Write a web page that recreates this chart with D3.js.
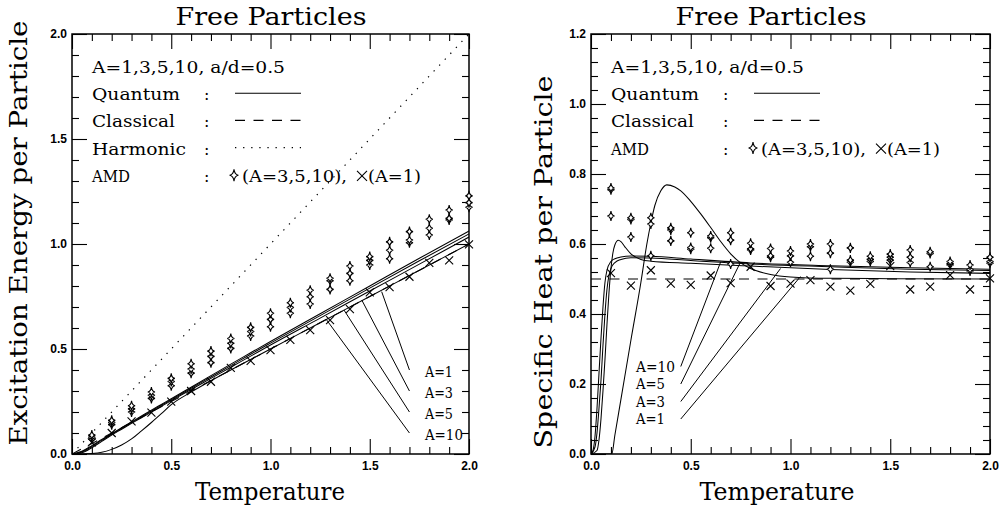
<!DOCTYPE html>
<html><head><meta charset="utf-8">
<script src="https://cdn.jsdelivr.net/npm/d3@7"></script>
<style>body{margin:0;background:#fff}svg{display:block}</style>
</head><body>
<svg id="c" width="1002" height="511"></svg>
<script>
// ---------------- DATA ----------------
const amdTemps = [0.1,0.2,0.3,0.4,0.5,0.6,0.7,0.8,0.9,1.0,1.1,1.2,1.3,1.4,1.5,1.6,1.7,1.8,1.9,2.0];
// Left panel: excitation energy per particle, AMD
const energyAmdA10 = [0.09,0.16,0.23,0.295,0.36,0.43,0.49,0.55,0.603,0.67,0.72,0.78,0.837,0.895,0.94,1.01,1.059,1.118,1.162,1.229];
const energyAmdA5  = [0.08,0.15,0.215,0.28,0.345,0.405,0.465,0.527,0.583,0.641,0.698,0.749,0.825,0.86,0.922,0.97,1.019,1.075,1.122,1.197];
const energyAmdA3  = [0.07,0.14,0.2,0.265,0.325,0.385,0.435,0.503,0.562,0.606,0.67,0.714,0.784,0.825,0.9,0.93,1.006,1.043,1.114,1.175];
const energyAmdA1  = [0.055,0.10,0.155,0.197,0.249,0.30,0.344,0.41,0.443,0.495,0.543,0.59,0.638,0.69,0.77,0.795,0.844,0.91,0.922,0.998];
// Left panel: quantum curves
const energyTemps = [0,0.05,0.1,0.15,0.2,0.25,0.3,0.35,0.4,0.45,0.5,0.6,0.7,0.8,0.9,1.0,1.25,1.5,1.75,2.0];
const energyQuantA1  = [0,0,0.002,0.008,0.022,0.043,0.072,0.11,0.15,0.192,0.235,0.295,0.349,0.4,0.45,0.5,0.625,0.75,0.875,1.0];
const energyQuantA3  = [0,0.006,0.03,0.06,0.09,0.118,0.146,0.173,0.2,0.227,0.254,0.307,0.36,0.413,0.466,0.519,0.647,0.776,0.904,1.033];
const energyQuantA5  = [0,0.01,0.036,0.065,0.094,0.122,0.15,0.177,0.205,0.232,0.259,0.313,0.367,0.421,0.475,0.528,0.659,0.79,0.92,1.048];
const energyQuantA10 = [0,0.013,0.04,0.069,0.097,0.125,0.153,0.181,0.209,0.236,0.263,0.318,0.373,0.428,0.482,0.536,0.668,0.8,0.932,1.062];
const harmonicTemps = [0,2];
const harmonicEnergy = [0,2];
const classicalTemps = [0,2];
const classicalEnergy = [0,1];
// Right panel: specific heat per particle, AMD
const heatAmdA10 = [0.76,0.675,0.675,0.646,0.632,0.623,0.632,0.602,0.587,0.58,0.6,0.6,0.589,0.565,0.571,0.583,0.578,0.55,0.54,0.562];
const heatAmdA5  = [0.755,0.67,0.657,0.64,0.59,0.618,0.611,0.586,0.566,0.566,0.592,0.574,0.554,0.556,0.562,0.562,0.573,0.544,0.527,0.55];
const heatAmdA3  = [0.68,0.62,0.566,0.609,0.585,0.588,0.543,0.583,0.562,0.548,0.565,0.528,0.548,0.55,0.554,0.547,0.535,0.54,0.523,0.545];
const heatAmdA1  = [0.517,0.481,0.525,0.487,0.483,0.51,0.488,0.535,0.48,0.487,0.497,0.478,0.467,0.486,0.537,0.47,0.478,0.511,0.47,0.502];
// Right panel: quantum curves
const heatA10Temps = [0,0.01,0.02,0.03,0.04,0.05,0.06,0.07,0.08,0.1,0.12,0.15,0.2,0.3,0.5,0.8,1.2,1.6,2.0];
const heatQuantA10 = [0,0.01,0.05,0.13,0.23,0.33,0.42,0.49,0.525,0.55,0.558,0.563,0.566,0.565,0.557,0.546,0.538,0.532,0.528];
const heatA5Temps  = [0,0.02,0.03,0.04,0.05,0.06,0.07,0.08,0.09,0.1,0.12,0.15,0.2,0.3,0.5,0.8,1.2,1.6,2.0];
const heatQuantA5  = [0,0.02,0.06,0.13,0.21,0.31,0.40,0.47,0.51,0.53,0.547,0.556,0.561,0.56,0.553,0.543,0.535,0.528,0.524];
const heatA3Temps  = [0,0.03,0.04,0.05,0.06,0.07,0.08,0.09,0.1,0.11,0.12,0.137,0.15,0.17,0.2,0.25,0.3,0.5,0.8,1.2,1.6,2.0];
const heatQuantA3  = [0,0.01,0.04,0.1,0.18,0.27,0.37,0.46,0.53,0.575,0.598,0.611,0.607,0.592,0.572,0.556,0.551,0.545,0.537,0.527,0.52,0.516];
const heatA1Temps  = [0,0.104,0.12,0.15,0.2,0.25,0.28,0.3,0.32,0.35,0.38,0.42,0.45,0.5,0.55,0.6,0.65,0.7,0.75,0.8,0.9,1.0,1.2,1.5,2.0];
const heatQuantA1  = [0,0,0.055,0.156,0.325,0.49,0.6,0.66,0.71,0.752,0.769,0.763,0.752,0.722,0.686,0.647,0.607,0.572,0.546,0.53,0.513,0.506,0.502,0.501,0.5];
const heatClassTemps = [0,2];
const heatClassical = [0.5,0.5];
// Annotations
const leftAnnLabels = ["A=1","A=3","A=5","A=10"];
const leftAnnFromT = [1.56,1.46,1.37,1.28];
const leftAnnFromE = [0.773,0.733,0.686,0.642];
const leftAnnToT = 1.70;
const leftAnnToE = [0.40,0.30,0.20,0.10];
const leftAnnTextT = 1.778;
const rightAnnLabels = ["A=10","A=5","A=3","A=1"];
const rightAnnFromT = [0.65,0.75,0.95,1.05];
const rightAnnFromC = [0.549,0.549,0.53,0.507];
const rightAnnToT = 0.45;
const rightAnnToC = [0.25,0.20,0.15,0.10];
const rightAnnTextT = 0.2256;
// Ticks / text
const xMajor = [0,0.5,1.0,1.5,2.0];
const xMinor = [0.1,0.2,0.3,0.4,0.6,0.7,0.8,0.9,1.1,1.2,1.3,1.4,1.6,1.7,1.8,1.9];
const yLeftMajor = [0,0.5,1.0,1.5,2.0];
const yLeftMinor = [0.1,0.2,0.3,0.4,0.6,0.7,0.8,0.9,1.1,1.2,1.3,1.4,1.6,1.7,1.8,1.9];
const yRightMajor = [0,0.2,0.4,0.6,0.8,1.0,1.2];
const yRightMinor = [0.04,0.08,0.12,0.16,0.24,0.28,0.32,0.36,0.44,0.48,0.52,0.56,0.64,0.68,0.72,0.76,0.84,0.88,0.92,0.96,1.04,1.08,1.12,1.16];
const panelTitle = "Free Particles";
const xTitle = "Temperature";
const yTitleLeft = "Excitation Energy per Particle";
const yTitleRight = "Specific Heat per Particle";
const legendHeader = "A=1,3,5,10, a/d=0.5";
const legendLeft = ["Quantum","Classical","Harmonic","AMD"];
const legendRight = ["Quantum","Classical","AMD"];
const amdText1 = "(A=3,5,10),";
const amdText2 = "(A=1)";

// ---------------- DRAW ----------------
const svg = d3.select("#c");
const SERIF = "'DejaVu Serif', 'Liberation Serif', serif";
const SANS = "'Liberation Sans', Arial, sans-serif";

const xL = d3.scaleLinear([0,2],[72,469]);
const yL = d3.scaleLinear([0,2],[454,34]);
const xR = d3.scaleLinear([0,2],[591,990]);
const yR = d3.scaleLinear([0,1.2],[454,34]);

const defs = svg.append("defs");
function clip(id,x,y){
  defs.append("clipPath").attr("id",id).append("rect")
    .attr("x",x.range()[0]).attr("y",y.range()[1])
    .attr("width",x.range()[1]-x.range()[0]).attr("height",y.range()[0]-y.range()[1]);
}
clip("clipL",xL,yL); clip("clipR",xR,yR);

function axes(x,y,yMaj,yMin){
  const [x0,x1]=x.range(), [yb,yt]=y.range();
  const add=(axis,tx,ty,labels)=>{
    const g=svg.append("g").attr("transform",`translate(${tx},${ty})`).call(axis);
    g.select(".domain").remove();
    g.selectAll("line").attr("stroke","#000").attr("stroke-width",1.1);
    if(labels) g.selectAll("text").attr("font-family",SANS).attr("font-weight","bold").attr("font-size",12).attr("fill","#000");
    else g.selectAll("text").remove();
  };
  const f=d3.format(".1f");
  add(d3.axisBottom(x).tickValues(xMajor).tickSize(-15).tickSizeOuter(0).tickPadding(7).tickFormat(f),0,yb,true);
  add(d3.axisBottom(x).tickValues(xMinor).tickSize(-7).tickSizeOuter(0),0,yb,false);
  add(d3.axisTop(x).tickValues(xMajor).tickSize(-15).tickSizeOuter(0),0,yt,false);
  add(d3.axisTop(x).tickValues(xMinor).tickSize(-7).tickSizeOuter(0),0,yt,false);
  add(d3.axisLeft(y).tickValues(yMaj).tickSize(-15).tickSizeOuter(0).tickPadding(5).tickFormat(f),x0,0,true);
  add(d3.axisLeft(y).tickValues(yMin).tickSize(-7).tickSizeOuter(0),x0,0,false);
  add(d3.axisRight(y).tickValues(yMaj).tickSize(-15).tickSizeOuter(0),x1,0,false);
  add(d3.axisRight(y).tickValues(yMin).tickSize(-7).tickSizeOuter(0),x1,0,false);
  svg.append("rect").attr("x",x0).attr("y",yt).attr("width",x1-x0).attr("height",yb-yt)
    .attr("fill","none").attr("stroke","#000").attr("stroke-width",1.5);
}

function curve(x,y,ts,vs,clipId,dash,w){
  const line=d3.line().x(d=>x(d[0])).y(d=>y(d[1])).curve(d3.curveMonotoneX);
  svg.append("path").datum(ts.map((t,i)=>[t,vs[i]])).attr("d",line)
    .attr("fill","none").attr("stroke","#000").attr("stroke-width",w||1.05)
    .attr("stroke-dasharray",dash||null).attr("clip-path",`url(#${clipId})`);
}

function starPath(rx,ry){
  const c=0.12;
  return `M0,${-ry}Q${rx*c},${-ry*c} ${rx},0Q${rx*c},${ry*c} 0,${ry}Q${-rx*c},${ry*c} ${-rx},0Q${-rx*c},${-ry*c} 0,${-ry}Z`;
}
function crossPath(r){ return `M${-r},${-r}L${r},${r}M${-r},${r}L${r},${-r}`; }

function stars(x,y,vs){
  svg.append("g").selectAll("path").data(amdTemps.map((t,i)=>[t,vs[i]])).join("path")
    .attr("d",starPath(3.6,5)).attr("transform",d=>`translate(${x(d[0])},${y(d[1])})`)
    .attr("fill","#fff").attr("stroke","#000").attr("stroke-width",1.1);
}
function crosses(x,y,vs){
  svg.append("g").selectAll("path").data(amdTemps.map((t,i)=>[t,vs[i]])).join("path")
    .attr("d",crossPath(4)).attr("transform",d=>`translate(${x(d[0])},${y(d[1])})`)
    .attr("fill","none").attr("stroke","#000").attr("stroke-width",1.1);
}

function txt(x,y,s,size,len,anchor,rot){
  const t=svg.append("text").attr("x",x).attr("y",y).text(s)
    .attr("font-family",SERIF).attr("font-size",size).attr("fill","#000");
  if(len) t.attr("textLength",len).attr("lengthAdjust","spacingAndGlyphs");
  if(anchor) t.attr("text-anchor",anchor);
  if(rot) t.attr("transform",`rotate(${rot},${x},${y})`);
  return t;
}

// ---- Left panel ----
axes(xL,yL,yLeftMajor,yLeftMinor);
curve(xL,yL,harmonicTemps,harmonicEnergy,"clipL","1.3,6.8",1.2);
curve(xL,yL,classicalTemps,classicalEnergy,"clipL","10,8.5");
curve(xL,yL,energyTemps,energyQuantA1,"clipL");
curve(xL,yL,energyTemps,energyQuantA3,"clipL");
curve(xL,yL,energyTemps,energyQuantA5,"clipL");
curve(xL,yL,energyTemps,energyQuantA10,"clipL");
stars(xL,yL,energyAmdA3); stars(xL,yL,energyAmdA5); stars(xL,yL,energyAmdA10);
crosses(xL,yL,energyAmdA1);
leftAnnLabels.forEach((lab,i)=>{
  svg.append("line").attr("x1",xL(leftAnnFromT[i])).attr("y1",yL(leftAnnFromE[i]))
    .attr("x2",xL(leftAnnToT)).attr("y2",yL(leftAnnToE[i])).attr("stroke","#000").attr("stroke-width",1);
  txt(xL(leftAnnTextT),yL(leftAnnToE[i])+6.5,lab,15,lab.length>3?38:28);
});

// ---- Right panel ----
axes(xR,yR,yRightMajor,yRightMinor);
curve(xR,yR,heatClassTemps,heatClassical,"clipR","10,8.5");
curve(xR,yR,heatA10Temps,heatQuantA10,"clipR");
curve(xR,yR,heatA5Temps,heatQuantA5,"clipR");
curve(xR,yR,heatA3Temps,heatQuantA3,"clipR");
curve(xR,yR,heatA1Temps,heatQuantA1,"clipR");
stars(xR,yR,heatAmdA3); stars(xR,yR,heatAmdA5); stars(xR,yR,heatAmdA10);
crosses(xR,yR,heatAmdA1);
rightAnnLabels.forEach((lab,i)=>{
  svg.append("line").attr("x1",xR(rightAnnFromT[i])).attr("y1",yR(rightAnnFromC[i]))
    .attr("x2",xR(rightAnnToT)).attr("y2",yR(rightAnnToC[i])).attr("stroke","#000").attr("stroke-width",1);
  txt(xR(rightAnnTextT),yR(rightAnnToC[i])+5,lab,15,lab.length>3?39:29);
});

// ---- Legends ----
const legendWidths = {"Quantum":88,"Classical":83,"Harmonic":94,"AMD":38};
const legendStyles = {"Quantum":null,"Classical":"10,8.5","Harmonic":"1.3,6.8"};
function legend(px0,labels){
  const base=73, step=27.2;
  txt(px0+20,base,legendHeader,16,193);
  labels.forEach((lab,i)=>{
    const yb=base+step*(i+1);
    txt(px0+20,yb,lab,16,legendWidths[lab]);
    txt(px0+132,yb,":",16);
    const ly=yb-7;
    if(lab!=="AMD"){
      svg.append("line").attr("x1",px0+163).attr("x2",px0+229).attr("y1",ly).attr("y2",ly)
        .attr("stroke","#000").attr("stroke-width",lab==="Harmonic"?1.2:1.1)
        .attr("stroke-dasharray",legendStyles[lab]);
    } else {
      svg.append("path").attr("d",starPath(4.4,6)).attr("transform",`translate(${px0+162},${yb-6.6})`)
        .attr("fill","#fff").attr("stroke","#000").attr("stroke-width",1.1);
      txt(px0+170,yb,amdText1,16,105);
      svg.append("path").attr("d",crossPath(5)).attr("transform",`translate(${px0+290},${yb-6})`)
        .attr("fill","none").attr("stroke","#000").attr("stroke-width",1.1);
      txt(px0+296,yb,amdText2,16,53);
    }
  });
}
legend(72,legendLeft);
legend(591,legendRight);

// ---- Titles ----
txt(271,25,panelTitle,24,191,"middle");
txt(771,25,panelTitle,24,191,"middle");
txt(270,500,xTitle,25,150,"middle");
txt(777,500,xTitle,25,155,"middle");
txt(27,233,yTitleLeft,25,425,"middle",-90);
txt(552,262,yTitleRight,25,373,"middle",-90);
</script>
</body></html>
